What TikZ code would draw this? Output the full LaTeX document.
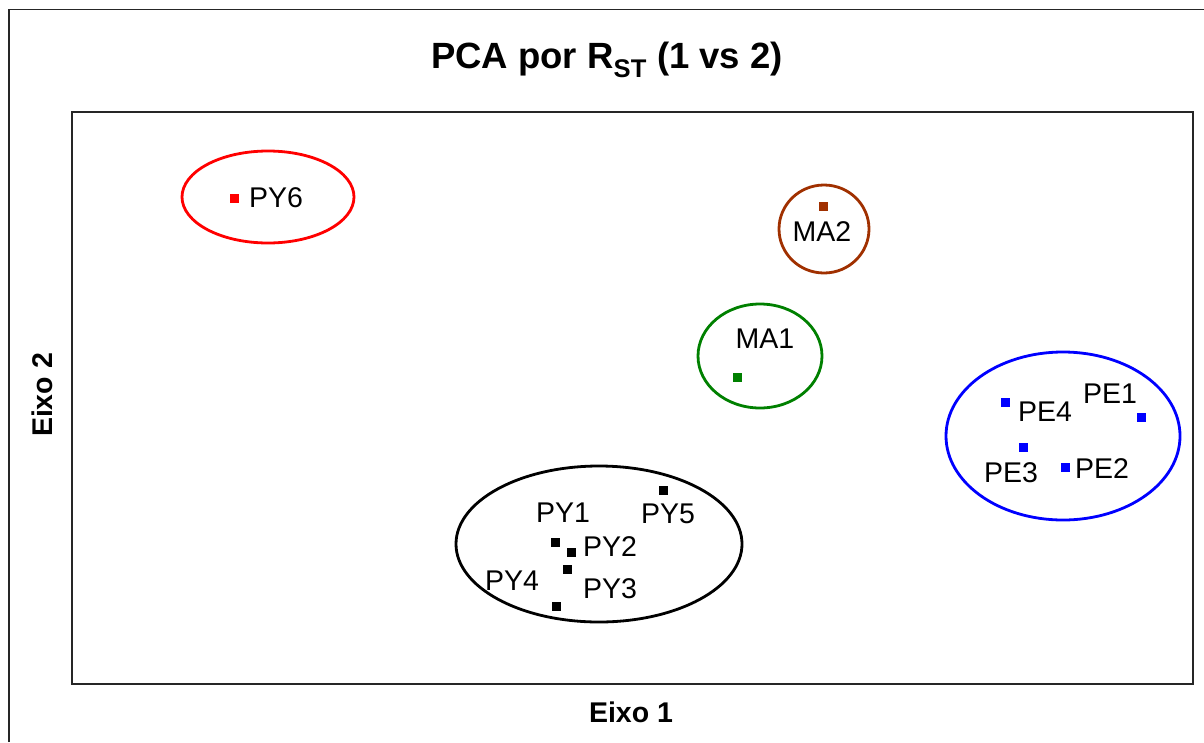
\documentclass[tikz,border=0pt]{standalone}
\usepackage{fontspec}
\setmainfont{Liberation Sans}
\definecolor{pcared}{RGB}{255,0,0}
\definecolor{pcablue}{RGB}{0,0,255}
\definecolor{pcagreen}{RGB}{0,128,0}
\definecolor{pcabrown}{RGB}{160,48,0}
\begin{document}
\begin{tikzpicture}[x=1pt,y=-1pt,
  frame/.style={draw=black!85,line width=1.8pt},
  group/.style={line width=2.8pt},
  pt/.style={rectangle,fill=#1,minimum size=9pt,inner sep=0pt},
  lab/.style={inner sep=0pt,font=\fontsize{28.5}{31}\selectfont},
  axlab/.style={inner sep=0pt,font=\fontsize{28.5}{31}\selectfont\bfseries}]
\useasboundingbox (0,0) rectangle (1204,742);
% frames
\draw[frame] (9,742) -- (9,9.5) -- (1204,9.5);
\draw[frame] (72,112) rectangle (1193,684);
% title and axis labels
\node[anchor=base,inner sep=0pt,font=\fontsize{36.5}{40}\selectfont\bfseries] (title) at (607,68) {PCA por R\textsubscript{ST} (1 vs 2)};
\node[axlab,anchor=base] (x) at (631,722) {Eixo 1};
\node[axlab,rotate=90] (y) at (42,395) {Eixo 2};
% ellipses
\draw[group,pcared] (268,197) ellipse [x radius=86,y radius=46];
\draw[group,pcabrown] (824,229) ellipse [x radius=45,y radius=44];
\draw[group,pcagreen] (760,356) ellipse [x radius=62,y radius=52];
\draw[group,black] (599,544) ellipse [x radius=143,y radius=78];
\draw[group,pcablue] (1063,436) ellipse [x radius=117,y radius=84];
% points
\node[pt=pcared] (py6) at (234,198) {};
\node[pt=pcabrown] (ma2) at (823,206) {};
\node[pt=pcagreen] (ma1) at (737,377) {};
\node[pt=black] (py1) at (555,542) {};
\node[pt=black] (py2) at (571,552) {};
\node[pt=black] (py3) at (567,569) {};
\node[pt=black] (py4) at (556,606) {};
\node[pt=black] (py5) at (663,490) {};
\node[pt=pcablue] (pe1) at (1141,417) {};
\node[pt=pcablue] (pe2) at (1065,467) {};
\node[pt=pcablue] (pe3) at (1023,447) {};
\node[pt=pcablue] (pe4) at (1005,402) {};
% labels
\node[lab] (lpy6) at (276,198) {PY6};
\node[lab] (lma2) at (822,232) {MA2};
\node[lab] (lma1) at (765,339) {MA1};
\node[lab] (lpy1) at (563,513) {PY1};
\node[lab] (lpy2) at (610,547) {PY2};
\node[lab] (lpy3) at (610,589) {PY3};
\node[lab] (lpy4) at (512,581) {PY4};
\node[lab] (lpy5) at (668,514) {PY5};
\node[lab] (lpe1) at (1110,394) {PE1};
\node[lab] (lpe2) at (1102,469) {PE2};
\node[lab] (lpe3) at (1011,473) {PE3};
\node[lab] (lpe4) at (1045,412) {PE4};
\end{tikzpicture}
\end{document}
